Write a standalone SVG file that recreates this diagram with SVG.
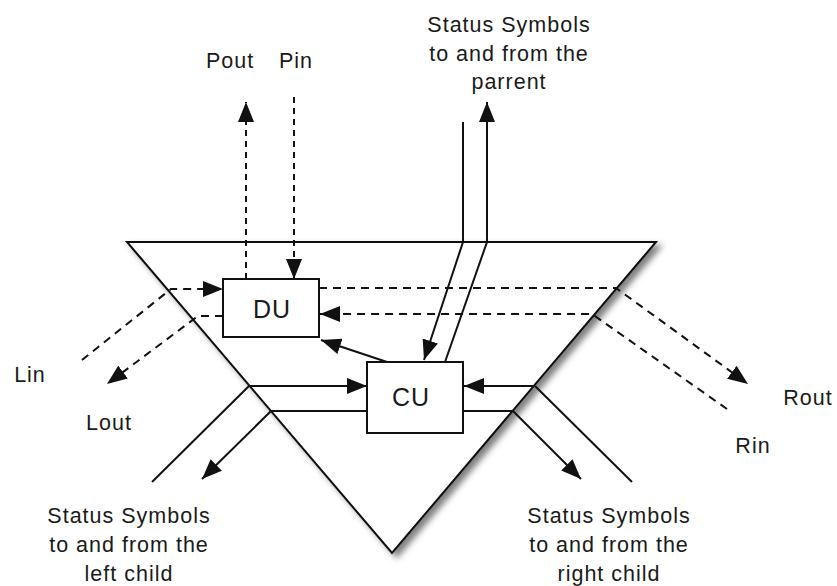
<svg xmlns="http://www.w3.org/2000/svg" width="837" height="586" viewBox="0 0 837 586">
<style>
.ln{fill:none;stroke:#111;stroke-width:2}
.dash{stroke-dasharray:8 6}
.vdash{stroke-dasharray:6 5}
.box{fill:#fff;stroke:#111;stroke-width:2}
.t{font-family:"Liberation Sans",Arial,sans-serif;font-size:21.5px;letter-spacing:1px;fill:#1a1a1a;text-anchor:middle}
.big{font-size:25px}
</style>
<defs>
<marker id="ah" markerUnits="userSpaceOnUse" markerWidth="20" markerHeight="16" refX="20" refY="8" orient="auto">
<path d="M0,0 L20,8 L0,16 z" fill="#111"/>
</marker>
<filter id="sh" x="-10%" y="-10%" width="130%" height="130%">
<feDropShadow dx="5" dy="4" stdDeviation="3" flood-color="#000" flood-opacity="0.5"/>
</filter>
</defs>
<g id="triangle">
<polygon points="127,242 656,242 392,553" fill="#fff" stroke="#111" stroke-width="2" filter="url(#sh)"/>
</g>
<g id="connectors">
<line class="ln vdash" x1="246" y1="279" x2="246" y2="102" marker-end="url(#ah)"/>
<line class="ln vdash" x1="294" y1="97" x2="294" y2="279" marker-end="url(#ah)"/>
<polyline class="ln" points="463,122 463,242 424,360" marker-end="url(#ah)"/>
<polyline class="ln" points="445,362 487,242 487,102" marker-end="url(#ah)"/>
<polyline class="ln dash" points="319,288 616,288 748,384" marker-end="url(#ah)"/>
<polyline class="ln dash" points="727,409 592,314 320,314" marker-end="url(#ah)"/>
<polyline class="ln dash" points="82,360 171,289 223,289" marker-end="url(#ah)"/>
<polyline class="ln dash" points="223,316 198,316 107,384" marker-end="url(#ah)"/>
<line class="ln" x1="387" y1="362" x2="321" y2="340" marker-end="url(#ah)"/>
<line class="ln" x1="249" y1="386" x2="367" y2="386" marker-end="url(#ah)"/>
<line class="ln" x1="249" y1="386" x2="152" y2="482"/>
<polyline class="ln" points="367,411 271,411 202,479" marker-end="url(#ah)"/>
<line class="ln" x1="535" y1="386" x2="464" y2="386" marker-end="url(#ah)"/>
<line class="ln" x1="535" y1="386" x2="632" y2="482"/>
<polyline class="ln" points="463,411 513,411 581,479" marker-end="url(#ah)"/>
</g>
<g id="DU">
<rect class="box" x="223" y="279" width="96" height="58"/>
<text class="t big" x="272" y="318">DU</text>
</g>
<g id="CU">
<rect class="box" x="367" y="362" width="96" height="71"/>
<text class="t big" x="411" y="406">CU</text>
</g>
<g id="labels">
<text class="t" x="230" y="68">Pout</text>
<text class="t" x="296" y="68">Pin</text>
<text class="t" x="509" y="32">Status Symbols</text>
<text class="t" x="509" y="61">to and from the</text>
<text class="t" x="509" y="89">parrent</text>
<text class="t" x="30" y="382">Lin</text>
<text class="t" x="109" y="430">Lout</text>
<text class="t" x="808" y="405">Rout</text>
<text class="t" x="753" y="453">Rin</text>
<text class="t" x="129" y="523">Status Symbols</text>
<text class="t" x="129" y="552">to and from the</text>
<text class="t" x="129" y="581">left child</text>
<text class="t" x="609" y="523">Status Symbols</text>
<text class="t" x="609" y="552">to and from the</text>
<text class="t" x="609" y="581">right child</text>
</g>
</svg>
